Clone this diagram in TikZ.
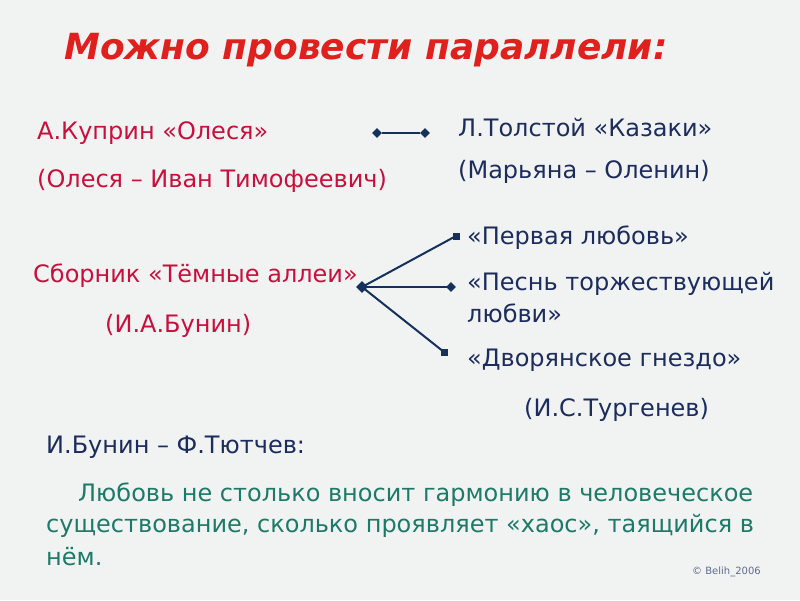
\documentclass[tikz,border=0pt]{standalone}
\usepackage{fontspec}
\usetikzlibrary{shapes.geometric}
\setmainfont{DejaVu Sans}
\begin{document}
\begin{tikzpicture}[x=1pt,y=-1pt]
\definecolor{bg}{HTML}{F1F3F3}
\definecolor{tred}{HTML}{E0201C}
\definecolor{crim}{HTML}{C8103C}
\definecolor{navy}{HTML}{1C2C5C}
\definecolor{grn}{HTML}{1E7A68}
\definecolor{ln}{HTML}{15305A}
\tikzset{
 txt/.style={anchor=west,inner sep=0pt,font=\fontsize{24}{28}\selectfont},
 lt/.style={txt,text=crim},
 rt/.style={txt,text=navy},
 gt/.style={txt,text=grn},
 dia/.style={diamond,fill=ln,inner sep=0pt,minimum size=10pt},
 sq/.style={rectangle,fill=ln,inner sep=0pt,minimum size=7pt},
 conn/.style={draw=ln,line width=2pt}
}
\fill[bg] (0,0) rectangle (800,600);
\node[anchor=west,inner sep=0pt,text=tred,font=\fontsize{36}{40}\selectfont\bfseries\itshape] (title) at (64,50) {Можно провести параллели:};
\node[lt] (a1) at (37,133) {А.Куприн «Олеся»};
\node[lt] (a2) at (37,181) {(Олеся – Иван Тимофеевич)};
\node[rt] (b1) at (458,128) {Л.Толстой «Казаки»};
\node[rt] (b2) at (458,172) {(Марьяна – Оленин)};
\node[lt] (c1) at (33,276) {Сборник «Тёмные аллеи»};
\node[lt] (c2) at (105,326) {(И.А.Бунин)};
\node[rt] (d1) at (467,238) {«Первая любовь»};
\node[rt] (d2) at (467,284) {«Песнь торжествующей};
\node[rt] (d3) at (467,313) {любви»};
\node[rt] (d4) at (467,360) {«Дворянское гнездо»};
\node[rt] (d5) at (524,410) {(И.С.Тургенев)};
\node[rt] (e1) at (46,447) {И.Бунин – Ф.Тютчев:};
\node[gt] (f1) at (78,495) {Любовь не столько вносит гармонию в человеческое};
\node[gt] (f2) at (46,526) {существование, сколько проявляет «хаос», таящийся в};
\node[gt] (f3) at (46,557) {нём.};
\node[anchor=west,inner sep=0pt,text=navy!70,font=\fontsize{10}{12}\selectfont] (cp) at (692,572) {© Belih\_2006};
\node[dia] (p1) at (377,133) {};
\node[dia] (p2) at (425,133) {};
\draw[conn] (p1) -- (p2);
\node[dia,minimum size=12pt] (o) at (362,287) {};
\node[sq] (q1) at (456,236) {};
\node[dia] (q2) at (451,287) {};
\node[sq] (q3) at (444,352) {};
\draw[conn] (o.center) -- (q1.center);
\draw[conn] (o.center) -- (q2.center);
\draw[conn] (o.center) -- (q3.center);
\end{tikzpicture}
\end{document}
